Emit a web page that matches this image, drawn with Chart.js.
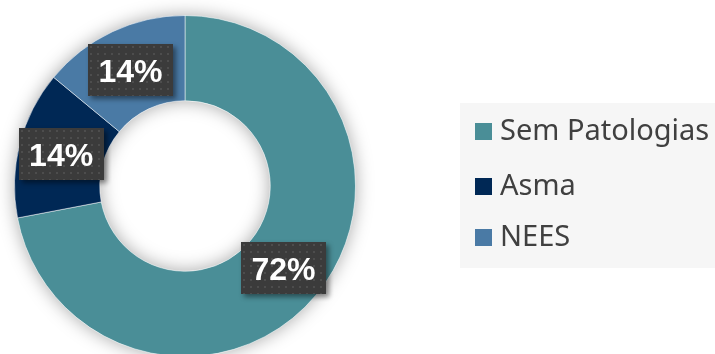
<!DOCTYPE html>
<html><head><meta charset="utf-8">
<script src="https://cdn.jsdelivr.net/npm/chart.js@4"></script>
<style>
html,body{margin:0;padding:0;overflow:hidden;background:#fff;width:715px;height:354px}
#wrap{position:relative;width:715px;height:360px}
</style></head>
<body><div id="wrap"><canvas id="c" width="715" height="360"></canvas></div>
<script>
const categories = ['Sem Patologias', 'Asma', 'NEES'];
const values = [72, 14, 14];
const valueLabels = ['72%', '14%', '14%'];
const colors = ['#4A8E97', '#002855', '#4A7AA5'];

function makePattern(ctx){
  const t = document.createElement('canvas');
  t.width = 7; t.height = 7;
  const g = t.getContext('2d');
  g.fillStyle = '#3b3b3b'; g.fillRect(0,0,7,7);
  g.fillStyle = '#4d4d4d'; g.fillRect(2,2,2,2);
  return ctx.createPattern(t, 'repeat');
}

const ringShadow = {
  id: 'ringShadow',
  beforeDatasetsDraw(chart){
    const arc = chart.getDatasetMeta(0).data[0];
    if (!arc) return;
    const p = arc.getProps(['x','y','outerRadius','innerRadius'], true);
    const ctx = chart.ctx;
    ctx.save();
    ctx.shadowColor = 'rgba(0,0,0,0.35)';
    ctx.shadowBlur = 18;
    ctx.fillStyle = '#ffffff';
    ctx.beginPath();
    ctx.arc(p.x, p.y, p.outerRadius, 0, Math.PI*2);
    ctx.arc(p.x, p.y, p.innerRadius, 0, Math.PI*2, true);
    ctx.fill();
    ctx.restore();
  }
};

const boxLabels = {
  id: 'boxLabels',
  afterDatasetsDraw(chart){
    const ctx = chart.ctx;
    const pat = makePattern(ctx);
    const meta = chart.getDatasetMeta(0);
    meta.data.forEach((arc, i) => {
      const pos = arc.tooltipPosition();
      const w = 85, h = 52;
      const x = Math.round(pos.x - w/2), y = Math.round(pos.y - h/2);
      ctx.save();
      ctx.shadowColor = 'rgba(0,0,0,0.45)';
      ctx.shadowBlur = 5;
      ctx.shadowOffsetX = 3;
      ctx.shadowOffsetY = 3;
      ctx.fillStyle = '#3b3b3b';
      ctx.fillRect(x, y, w, h);
      ctx.restore();
      ctx.save();
      ctx.fillStyle = pat;
      ctx.translate(x, y);
      ctx.fillRect(0, 0, w, h);
      ctx.restore();
      ctx.save();
      ctx.fillStyle = '#ffffff';
      ctx.font = 'bold 32px "Liberation Sans", Arial, sans-serif';
      ctx.textAlign = 'center';
      ctx.textBaseline = 'alphabetic';
      ctx.fillText(valueLabels[i], pos.x, pos.y + 12);
      ctx.restore();
    });
  }
};

const sideLegend = {
  id: 'sideLegend',
  afterDraw(chart){
    const ctx = chart.ctx;
    ctx.save();
    ctx.fillStyle = '#f6f6f6';
    ctx.fillRect(460, 103, 255, 165);
    const base = [140, 195, 246];
    chart.data.labels.forEach((lab, i) => {
      const c = chart.data.datasets[0].backgroundColor[i];
      ctx.fillStyle = c;
      ctx.fillRect(475, base[i] - 17, 17, 17);
      ctx.fillStyle = '#404040';
      ctx.font = '29px "Noto Sans", sans-serif';
      ctx.textBaseline = 'alphabetic';
      ctx.textAlign = 'left';
      ctx.fillText(lab, 500, base[i]);
    });
    ctx.restore();
  }
};

new Chart(document.getElementById('c'), {
  type: 'doughnut',
  data: {
    labels: categories,
    datasets: [{
      data: values,
      backgroundColor: colors,
      borderColor: 'rgba(255,255,255,0.5)',
      borderWidth: 1
    }]
  },
  options: {
    responsive: false,
    animation: false,
    cutout: '50%',
    layout: { padding: { left: 14, right: 359, top: 15, bottom: 3 } },
    plugins: { legend: { display: false }, tooltip: { enabled: false } }
  },
  plugins: [ringShadow, boxLabels, sideLegend]
});
</script>
</body></html>
